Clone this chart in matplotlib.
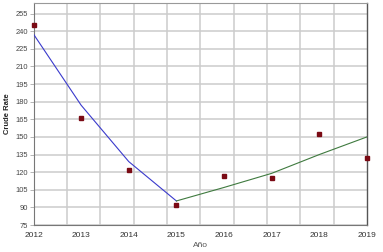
import numpy as np
import matplotlib.pyplot as plt

# datos observados
anios = [2012, 2013, 2014, 2015, 2016, 2017, 2018, 2019]
tasa = [245.4, 166.0, 122.0, 91.7, 116.7, 115.1, 152.8, 132.0]

# tramos de la tendencia
anios_baja = [2012, 2013, 2014, 2015]
tend_baja = [237.5, 177.0, 129.0, 95.5]
anios_sube = [2015, 2016, 2017, 2018, 2019]
tend_sube = [95.5, 107.0, 119.0, 135.0, 150.0]

yticks = list(range(75, 256, 15))

plt.rcParams['font.family'] = ['Liberation Sans', 'DejaVu Sans']

fig = plt.figure(figsize=(3.83, 2.52), dpi=100)
ax = fig.add_axes([0.0875, 0.107, 0.8705, 0.881])

ax.plot(anios_baja, tend_baja, color='#3a3acc', lw=0.8, zorder=3)
ax.plot(anios_sube, tend_sube, color='#3f7a3f', lw=0.8, zorder=3)
ax.plot(anios, tasa, 's', color='#7a0a14', ms=3.2, clip_on=False, zorder=4)

ax.set_xlim(2012, 2019)
ax.set_ylim(75, 264)
ax.set_xticks(anios)
ax.set_xticks(np.arange(2012.7, 2019, 0.7), minor=True)
ax.set_yticks(yticks)

ax.grid(True, axis='y', which='major', color='#cccccc', lw=1.1)
ax.grid(True, axis='x', which='minor', color='#cccccc', lw=1.1)
ax.set_axisbelow(True)

ax.tick_params(axis='x', which='both', length=0, labelsize=6, colors='#333333', pad=5)
ax.tick_params(axis='y', length=3, width=0.6, color='#aaaaaa', labelsize=5.4, labelcolor='#444444', pad=1)

for lado in ['left', 'bottom']:
    ax.spines[lado].set_color('#777777')
    ax.spines[lado].set_linewidth(0.8)
ax.spines['top'].set_color('#999999')
ax.spines['top'].set_linewidth(0.8)
ax.spines['right'].set_color('#555555')
ax.spines['right'].set_linewidth(1.0)

ax.set_xlabel('Año', fontsize=6, color='#555555', labelpad=2)
ax.set_ylabel('Crude Rate', fontsize=5.5, fontweight='bold', color='#222222', labelpad=3)

fig.savefig('out.png', dpi=100)
